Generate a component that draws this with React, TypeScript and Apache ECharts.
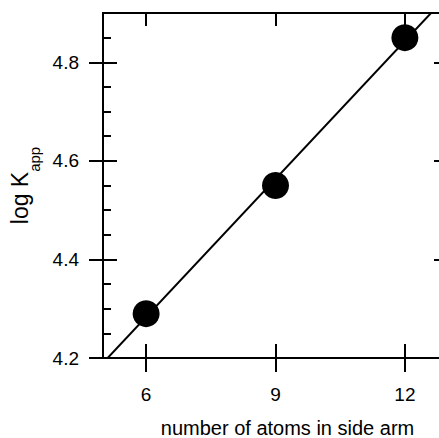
import React, { useEffect, useRef } from "react";
import * as echarts from "echarts";

const atoms = [6, 9, 12];
const logKapp = [4.29, 4.55, 4.85];
const xTicks = [6, 9, 12];
const yTicks = [4.2, 4.4, 4.6, 4.8];
const yMinorTicks = [4.25, 4.3, 4.35, 4.45, 4.5, 4.55, 4.65, 4.7, 4.75, 4.85];
const X_MIN = 5;
const X_MAX = 13;
const Y_MIN = 4.2;
const Y_MAX = 4.9;

function fitLine(xs: number[], ys: number[]) {
  const n = xs.length;
  const mx = xs.reduce((a, b) => a + b, 0) / n;
  const my = ys.reduce((a, b) => a + b, 0) / n;
  let sxy = 0;
  let sxx = 0;
  for (let i = 0; i < n; i++) {
    sxy += (xs[i] - mx) * (ys[i] - my);
    sxx += (xs[i] - mx) * (xs[i] - mx);
  }
  const b = sxy / sxx;
  const a = my - b * mx;
  return { a, b };
}

export default function App() {
  const ref = useRef<HTMLDivElement>(null);
  useEffect(() => {
    if (!ref.current) return;
    const chart = echarts.init(ref.current, undefined, { renderer: "svg" });
    const { a, b } = fitLine(atoms, logKapp);
    const fit = [
      [X_MIN, a + b * X_MIN],
      [X_MAX, a + b * X_MAX],
    ];
    const font = "Liberation Sans, Arial, Helvetica, sans-serif";
    const lw = 2;
    const black = "#000";
    const baseX = {
      type: "value" as const,
      min: X_MIN,
      max: X_MAX,
      splitLine: { show: false },
      axisLine: { show: true, onZero: false, lineStyle: { color: black, width: lw } },
      axisLabel: { show: false },
    };
    const baseY = {
      type: "value" as const,
      min: Y_MIN,
      max: Y_MAX,
      splitLine: { show: false },
      axisLine: { show: true, onZero: false, lineStyle: { color: black, width: lw } },
      axisLabel: { show: false },
    };
    chart.setOption({
      animation: false,
      backgroundColor: "#fff",
      grid: {
        left: 103,
        top: 13,
        width: 345,
        height: 345,
        containLabel: false,
        outerBoundsMode: "none",
      },
      xAxis: [
        {
          ...baseX,
          position: "bottom",
          axisTick: {
            show: true,
            inside: false,
            length: 14,
            customValues: xTicks,
            lineStyle: { color: black, width: lw },
          },
          axisLabel: {
            show: true,
            customValues: xTicks,
            margin: 27,
            fontSize: 19,
            color: black,
            fontFamily: font,
          },
          name: "number of atoms in side arm",
          nameLocation: "middle",
          nameGap: 60,
          nameTextStyle: {
            fontSize: 20,
            color: black,
            fontFamily: font,
            padding: [0, 0, 0, 24],
          },
        },
        {
          ...baseX,
          position: "bottom",
          axisTick: {
            show: true,
            inside: true,
            length: 14,
            customValues: xTicks,
            lineStyle: { color: black, width: lw },
          },
        },
        {
          ...baseX,
          position: "top",
          axisTick: {
            show: true,
            inside: true,
            length: 13,
            customValues: xTicks,
            lineStyle: { color: black, width: lw },
          },
        },
      ],
      yAxis: [
        {
          ...baseY,
          position: "left",
          axisTick: {
            show: true,
            inside: false,
            length: 14,
            customValues: yTicks,
            lineStyle: { color: black, width: lw },
          },
          axisLabel: {
            show: true,
            customValues: yTicks,
            margin: 24,
            fontSize: 19,
            color: black,
            fontFamily: font,
            formatter: (v: number) => v.toFixed(1),
          },
          name: "log K{sub|app}",
          nameLocation: "middle",
          nameRotate: 90,
          nameGap: 62,
          nameTextStyle: {
            fontSize: 23,
            color: black,
            fontFamily: font,
            rich: {
              sub: {
                fontSize: 15,
                color: black,
                fontFamily: font,
                verticalAlign: "bottom",
                padding: [0, 0, -10, 0],
              },
            },
          },
        },
        {
          ...baseY,
          position: "left",
          axisTick: {
            show: true,
            inside: true,
            length: 14,
            customValues: yTicks,
            lineStyle: { color: black, width: lw },
          },
        },
        {
          ...baseY,
          position: "left",
          axisTick: {
            show: true,
            inside: true,
            length: 8,
            customValues: yMinorTicks,
            lineStyle: { color: black, width: lw },
          },
        },
        {
          ...baseY,
          position: "right",
          axisTick: {
            show: true,
            inside: true,
            length: 14,
            customValues: yTicks,
            lineStyle: { color: black, width: lw },
          },
        },
      ],
      series: [
        {
          type: "line",
          xAxisIndex: 0,
          yAxisIndex: 0,
          data: fit,
          showSymbol: false,
          symbol: "none",
          clip: true,
          lineStyle: { color: black, width: lw },
          z: 2,
        },
        {
          type: "scatter",
          xAxisIndex: 0,
          yAxisIndex: 0,
          data: atoms.map((x, i) => [x, logKapp[i]]),
          symbol: "circle",
          symbolSize: 27,
          itemStyle: { color: black, opacity: 1 },
          z: 3,
        },
      ],
    });
    return () => chart.dispose();
  }, []);
  return (
    <div
      ref={ref}
      style={{ position: "fixed", left: 0, top: 0, width: 439, height: 438 }}
    />
  );
}
